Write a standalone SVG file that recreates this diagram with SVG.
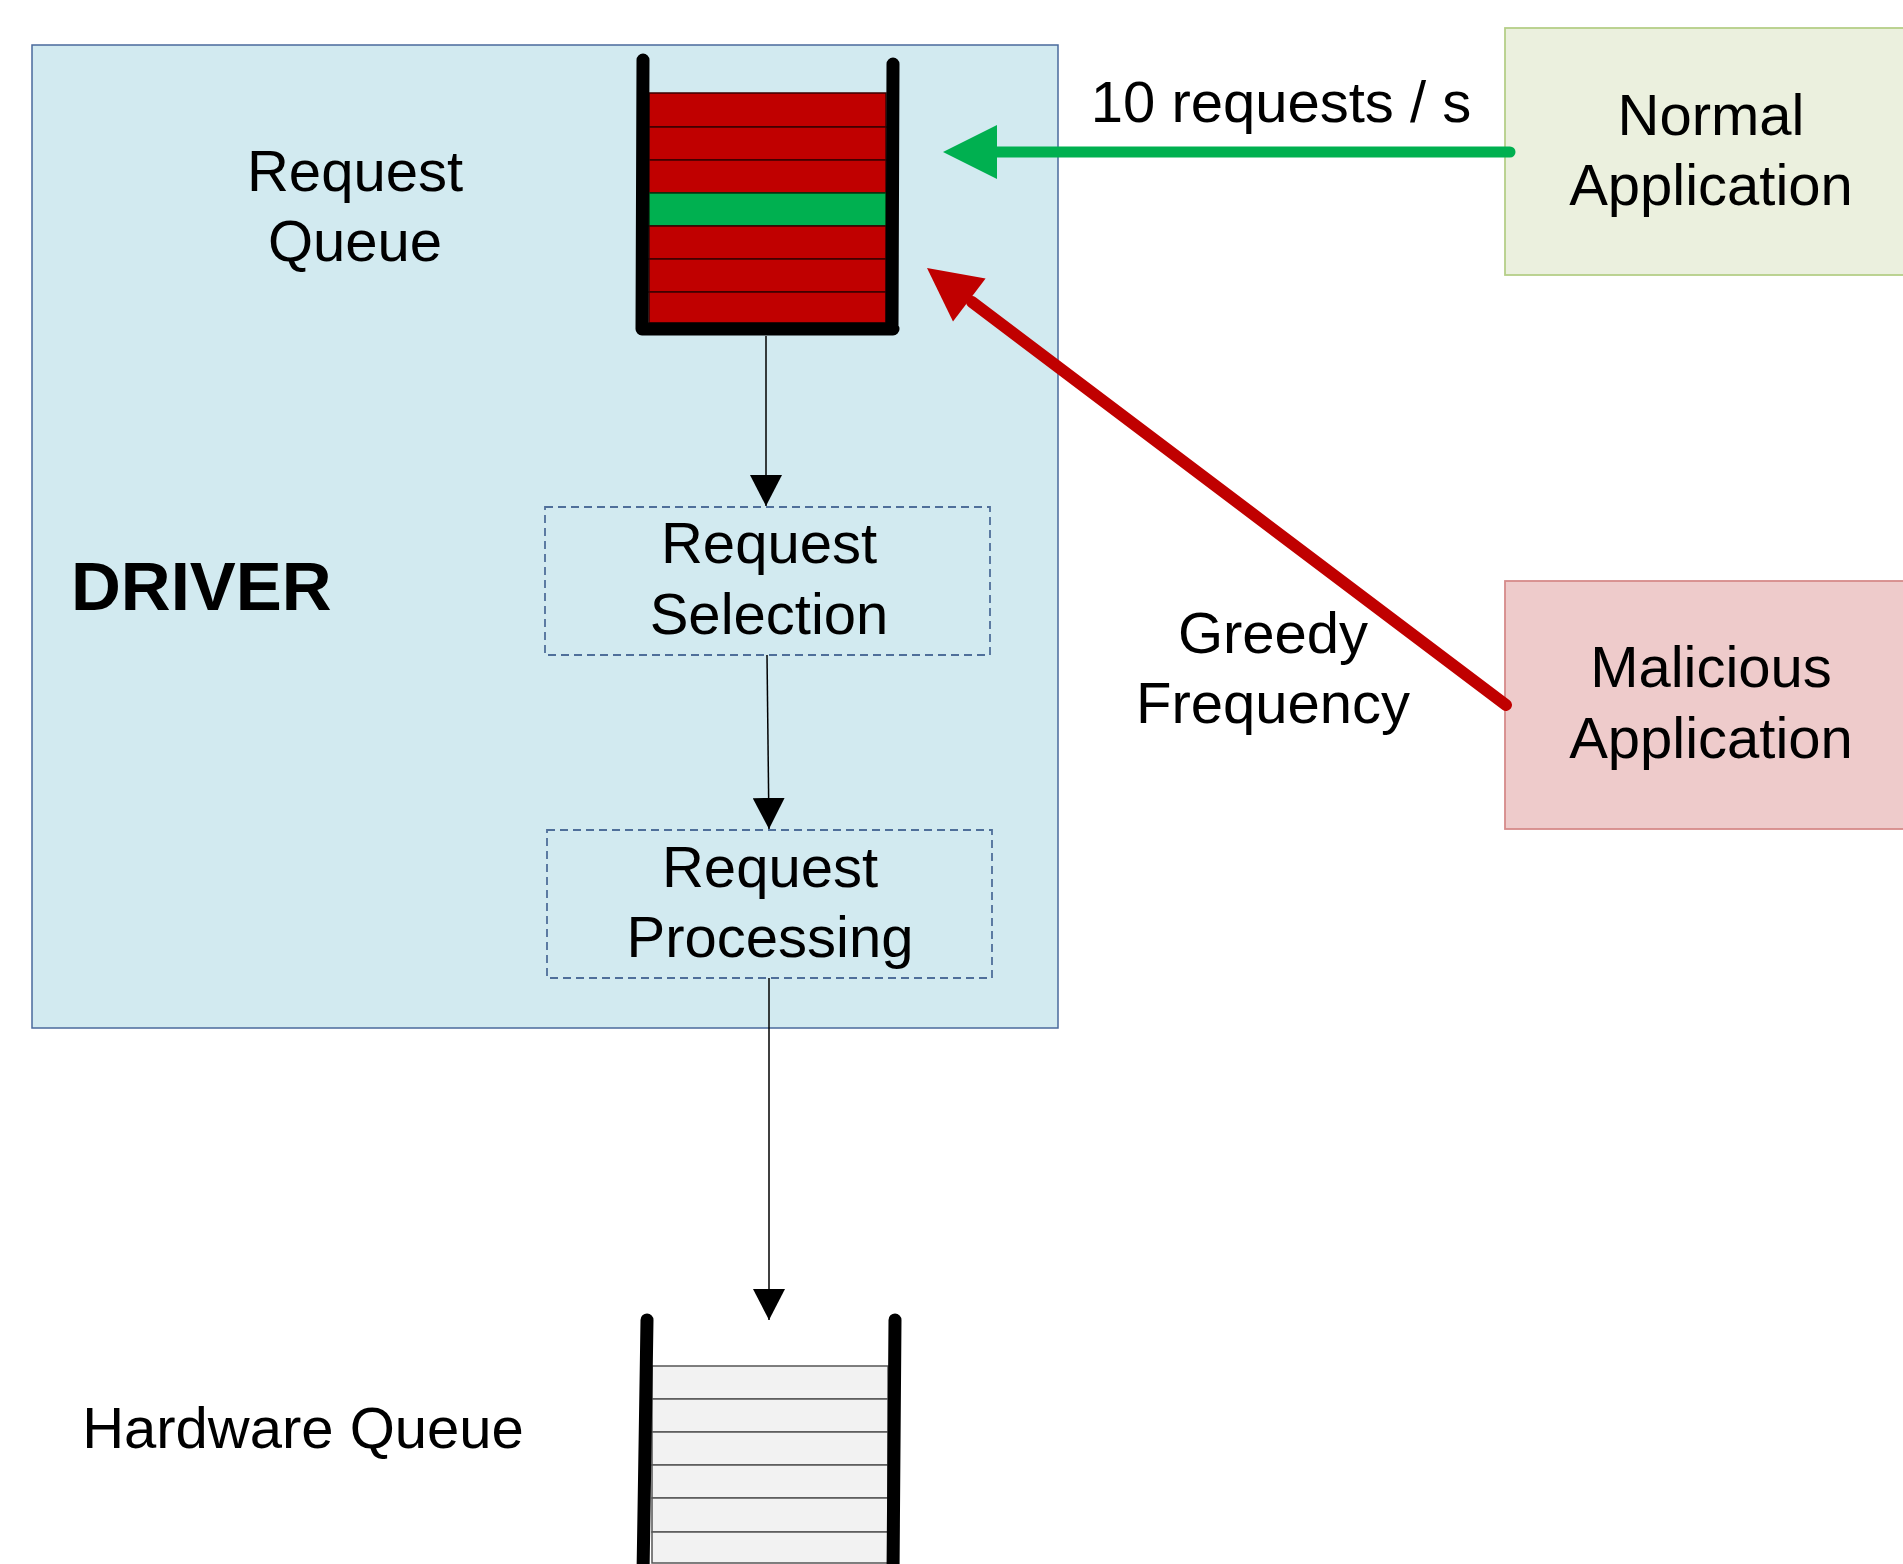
<svg xmlns="http://www.w3.org/2000/svg" width="1903" height="1564" viewBox="0 0 1903 1564">
<defs>
<style>
text{font-family:"Liberation Sans",Arial,sans-serif;fill:#000}
.t{font-size:58px;text-anchor:middle}
.wall{fill:none;stroke:#000;stroke-width:13;stroke-linecap:round;stroke-linejoin:round}
.dash{fill:none;stroke:#4f6f9a;stroke-width:1.8;stroke-dasharray:8 5}
.thin{fill:none;stroke:#000;stroke-width:1.5}
.red{fill:#c00000;stroke:#3a0000;stroke-width:1.5}
.grn{fill:#00b050;stroke:#003a10;stroke-width:1.5}
.hw{fill:#f2f2f2;stroke:#555;stroke-width:1.5}
</style>
<marker id="tri" viewBox="0 0 31 32" refX="31" refY="16" markerWidth="31" markerHeight="32" markerUnits="userSpaceOnUse" orient="auto">
<path d="M0,0 L31,16 L0,32 z" fill="#000"/>
</marker>
</defs>
<rect width="1903" height="1564" fill="#fff"/>

<g id="driver">
<rect x="32" y="45" width="1026" height="983" fill="#d2eaf0" stroke="#4a6a9c" stroke-width="1.5"/>
<text x="71" y="610" style="font-size:69px;font-weight:bold">DRIVER</text>
</g>

<g id="request-queue">
<text class="t" x="355" y="191">Request</text>
<text class="t" x="355" y="261">Queue</text>
<rect class="red" x="649" y="93" width="237" height="34"/>
<rect class="red" x="649" y="127" width="237" height="33"/>
<rect class="red" x="649" y="160" width="237" height="33"/>
<rect class="grn" x="649" y="193" width="237" height="33"/>
<rect class="red" x="649" y="226" width="237" height="33"/>
<rect class="red" x="649" y="259" width="237" height="33"/>
<rect class="red" x="649" y="292" width="237" height="31"/>
<path class="wall" d="M643,60 L642,329 L893,329 M893,64 L892,329"/>
</g>

<g id="request-selection">
<rect class="dash" x="545" y="507" width="445" height="148"/>
<text class="t" x="769" y="563">Request</text>
<text class="t" x="769" y="634">Selection</text>
</g>

<g id="request-processing">
<rect class="dash" x="547" y="830" width="445" height="148"/>
<text class="t" x="770" y="887">Request</text>
<text class="t" x="770" y="957">Processing</text>
</g>

<g id="hardware-queue">
<text class="t" x="303" y="1448">Hardware Queue</text>
<rect class="hw" x="652" y="1366" width="236" height="33"/>
<rect class="hw" x="652" y="1399" width="236" height="33"/>
<rect class="hw" x="652" y="1432" width="236" height="33"/>
<rect class="hw" x="652" y="1465" width="236" height="33"/>
<rect class="hw" x="652" y="1498" width="236" height="34"/>
<rect class="hw" x="652" y="1532" width="236" height="31"/>
<path class="wall" d="M647,1320 L643,1575 M895,1320 L893,1575"/>
</g>

<g id="normal-application">
<rect x="1505" y="28" width="420" height="247" fill="#ebf0de" stroke="#b5cf88" stroke-width="1.8"/>
<text class="t" x="1711" y="135">Normal</text>
<text class="t" x="1711" y="205">Application</text>
</g>

<g id="malicious-application">
<rect x="1505" y="581" width="420" height="248" fill="#eecbcb" stroke="#d58b8a" stroke-width="1.8"/>
<text class="t" x="1711" y="687">Malicious</text>
<text class="t" x="1711" y="758">Application</text>
</g>

<g id="connectors">
<line class="thin" x1="766" y1="336" x2="766" y2="506" marker-end="url(#tri)"/>
<line class="thin" x1="767" y1="655" x2="769" y2="829" marker-end="url(#tri)"/>
<line class="thin" x1="769" y1="978" x2="769" y2="1320" marker-end="url(#tri)"/>
<line x1="1510" y1="152" x2="994" y2="152" stroke="#00b050" stroke-width="11" stroke-linecap="round"/>
<polygon points="943,152 997,125 997,179" fill="#00b050"/>
<line x1="1506" y1="705" x2="972" y2="302" stroke="#c00000" stroke-width="12" stroke-linecap="round"/>
<polygon points="927,268 985.6,278.4 953,321.4" fill="#c00000"/>
<text class="t" x="1281" y="122">10 requests / s</text>
<text class="t" x="1273" y="653">Greedy</text>
<text class="t" x="1273" y="723">Frequency</text>
</g>
</svg>
